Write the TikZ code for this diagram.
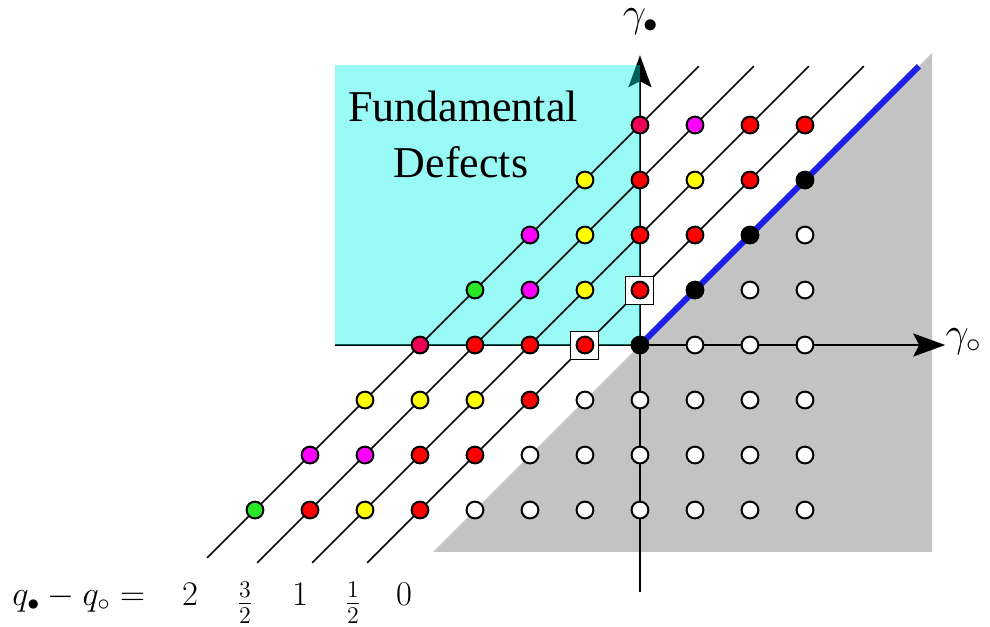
\documentclass[tikz,border=0pt]{standalone}
\usepackage{fontspec}
\newfontfamily\timesf{Liberation Serif}
\usetikzlibrary{arrows.meta}
\definecolor{crimson}{RGB}{235,0,85}
\definecolor{ptred}{RGB}{255,0,0}
\definecolor{ptyellow}{RGB}{255,255,0}
\definecolor{ptmagenta}{RGB}{255,0,255}
\definecolor{ptgreen}{RGB}{40,230,40}
\definecolor{shadegray}{RGB}{195,195,195}
\definecolor{lineblue}{RGB}{30,30,235}
\definecolor{defcyan}{RGB}{0,240,230}
\begin{document}
\begin{tikzpicture}[x=27.5pt,y=27.5pt,
  dot/.style={circle,draw=black,line width=1pt,minimum size=8.4pt,inner sep=0pt},
  sqbox/.style={rectangle,draw=black,line width=0.5pt,fill=white,minimum size=14pt,inner sep=0pt},
  axisline/.style={line width=1.3pt,-{Stealth[length=16pt,width=11.5pt,inset=3pt]}},
  diag/.style={line width=0.8pt},
  bigmath/.style={inner sep=0pt,font=\fontsize{20.74}{24}\selectfont},
  labmath/.style={inner sep=0pt,font=\fontsize{17.28}{20}\selectfont},
  deftext/.style={inner sep=0pt,font=\timesf\fontsize{22}{26}\selectfont}]
\useasboundingbox (-11.636,-5.109) rectangle (6.364,6.273);

% gray region
\fill[shadegray] (-3.76,-3.76) -- (5.31,-3.76) -- (5.31,5.31) -- cycle;

% axes
\coordinate (vb) at (0,-4.49);
\coordinate (vt) at (0,5.27);
\coordinate (hl) at (-5.55,0);
\coordinate (hr) at (5.55,0);
\draw[axisline] (vb) -- (vt);
\draw[axisline] (hl) -- (hr);

% fundamental defects region
\fill[defcyan,opacity=0.4] (-5.55,0) rectangle (0,5.09);

% diagonal lines
\foreach \k/\b in {4/-3.87,3/-3.96,2/-3.96,1/-3.96}{
  \pgfmathsetmacro{\xb}{\b-\k}
  \pgfmathsetmacro{\xt}{5.07-\k}
  \coordinate (lb\k) at (\xb,\b);
  \coordinate (lt\k) at (\xt,5.07);
  \draw[diag] (lb\k) -- (lt\k);
}
\coordinate (o) at (0,0);
\coordinate (bt) at (5.07,5.07);
\draw[lineblue,line width=3pt] (o) -- (bt);

% boxed points
\node[sqbox] (bxa) at (-1,0) {};
\node[sqbox] (bxb) at (0,1) {};

% coloured points
\foreach \i/\j/\c in {
  -7/-3/ptgreen,-6/-2/ptmagenta,-5/-1/ptyellow,-4/0/crimson,-3/1/ptgreen,-2/2/ptmagenta,-1/3/ptyellow,0/4/crimson,
  -6/-3/ptred,-5/-2/ptmagenta,-4/-1/ptyellow,-3/0/ptred,-2/1/ptmagenta,-1/2/ptyellow,0/3/ptred,1/4/ptmagenta,
  -5/-3/ptyellow,-4/-2/ptred,-3/-1/ptyellow,-2/0/ptred,-1/1/ptyellow,0/2/ptred,1/3/ptyellow,2/4/ptred,
  -4/-3/ptred,-3/-2/ptred,-2/-1/ptred,-1/0/ptred,0/1/ptred,1/2/ptred,2/3/ptred,3/4/ptred,
  0/0/black,1/1/black,2/2/black,3/3/black}{
  \node[dot,fill=\c] (p\i x\j) at (\i,\j) {};
}
% white points
\foreach \j in {-3,...,2}{
  \pgfmathtruncatemacro{\istart}{\j<0 ? \j : \j+1}
  \foreach \i in {\istart,...,3}{
    \node[dot,fill=white] (p\i x\j) at (\i,\j) {};
  }
}

% labels
\node[bigmath,anchor=base] (gy) at (0.02,5.79) {$\gamma_\bullet$};
\node[bigmath,anchor=base west] (gx) at (5.55,-0.02) {$\gamma_\circ$};
\node[deftext,anchor=base] (f1) at (-3.22,4.06) {Fundamental};
\node[deftext,anchor=base] (f2) at (-3.255,3.04) {Defects};

\node[labmath,anchor=base west] (ql) at (-11.42,-4.727) {$q_\bullet-q_\circ=$};
\node[labmath,anchor=base] (n2) at (-8.18,-4.727) {$2$};
\node[labmath] (n32) at (-7.18,-4.69) {$\frac{3}{2}$};
\node[labmath,anchor=base] (n1) at (-6.18,-4.727) {$1$};
\node[labmath] (n12) at (-5.22,-4.69) {$\frac{1}{2}$};
\node[labmath,anchor=base] (n0) at (-4.29,-4.727) {$0$};
\end{tikzpicture}
\end{document}
